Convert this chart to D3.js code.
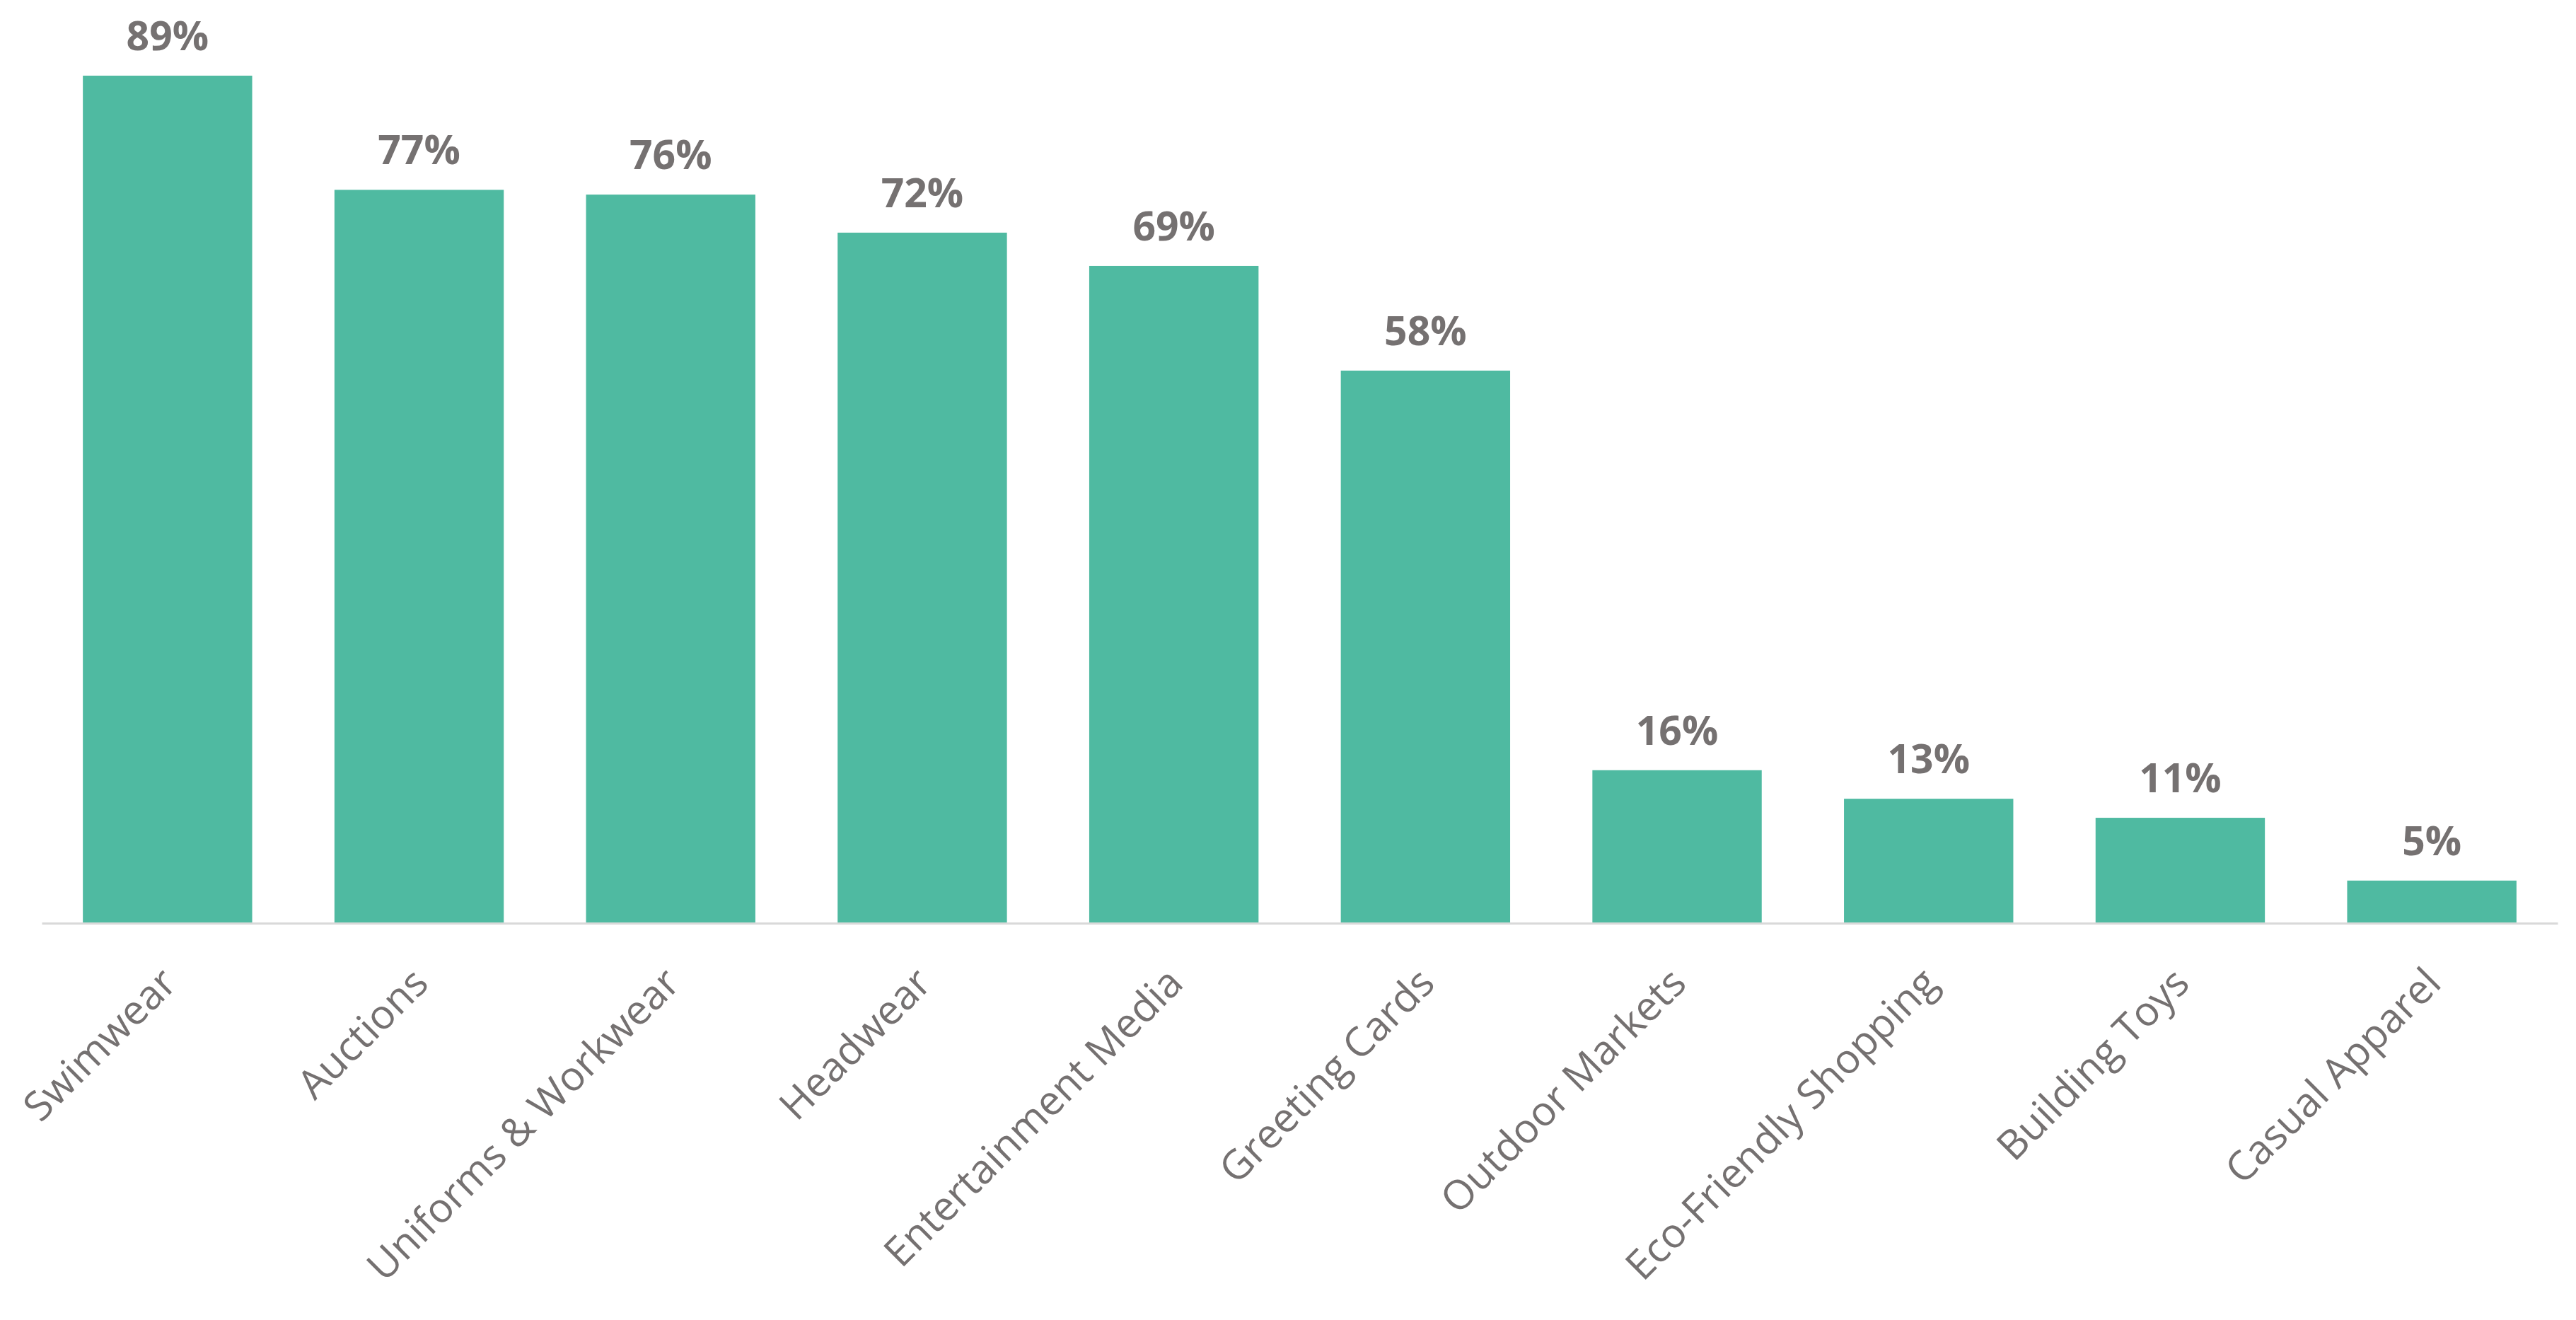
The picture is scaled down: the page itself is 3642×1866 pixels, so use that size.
<!DOCTYPE html>
<html>
<head>
<meta charset="utf-8">
<script src="https://cdn.jsdelivr.net/npm/d3@7"></script>
<style>
  html, body { margin: 0; padding: 0; background: #ffffff; }
  svg { display: block; }
</style>
</head>
<body>
<svg id="chart"></svg>
<script>
// ---- data ----
const categories = ["Swimwear", "Auctions", "Uniforms & Workwear", "Headwear", "Entertainment Media",
                    "Greeting Cards", "Outdoor Markets", "Eco-Friendly Shopping", "Building Toys", "Casual Apparel"];
const values = [89, 77, 76.5, 72.5, 69, 58, 16, 13, 11, 4.4];
const valueLabels = ["89%", "77%", "76%", "72%", "69%", "58%", "16%", "13%", "11%", "5%"];

// ---- layout ----
const W = 3642, H = 1866;
const baseline = 1304;
const svg = d3.select("#chart").attr("width", W).attr("height", H);

const x = d3.scaleBand()
  .domain(categories)
  .range([59, 3616])
  .paddingInner(0.327)
  .paddingOuter(0.1635);

const y = d3.scaleLinear()
  .domain([0, 100])
  .range([baseline, baseline - 1345]);

const textColor = "#757171";
const barColor = "#4FBAA1";

// bars
svg.append("g").selectAll("rect")
  .data(categories)
  .join("rect")
  .attr("x", d => x(d))
  .attr("width", x.bandwidth())
  .attr("y", (d, i) => y(values[i]))
  .attr("height", (d, i) => y(0) - y(values[i]))
  .attr("fill", barColor);

// x axis
const xAxis = d3.axisBottom(x).tickSize(0).tickPadding(0);
const gx = svg.append("g")
  .attr("transform", `translate(0,${baseline + 1})`)
  .call(xAxis);
gx.select(".domain").attr("stroke", "#D9D9D9").attr("stroke-width", 3);
gx.selectAll(".tick text")
  .attr("font-family", "'Open Sans', sans-serif")
  .attr("font-size", 57.5)
  .attr("fill", textColor)
  .attr("text-anchor", "end")
  .attr("dy", 0)
  .attr("y", 0)
  .attr("transform", "translate(16,88) rotate(-45)");

// value labels
svg.append("g").selectAll("text")
  .data(categories)
  .join("text")
  .attr("x", d => x(d) + x.bandwidth() / 2)
  .attr("y", (d, i) => y(values[i]) - 36)
  .attr("text-anchor", "middle")
  .attr("font-family", "'Open Sans', sans-serif")
  .attr("font-weight", 700)
  .attr("font-size", 57)
  .attr("fill", textColor)
  .text((d, i) => valueLabels[i]);
</script>
</body>
</html>
